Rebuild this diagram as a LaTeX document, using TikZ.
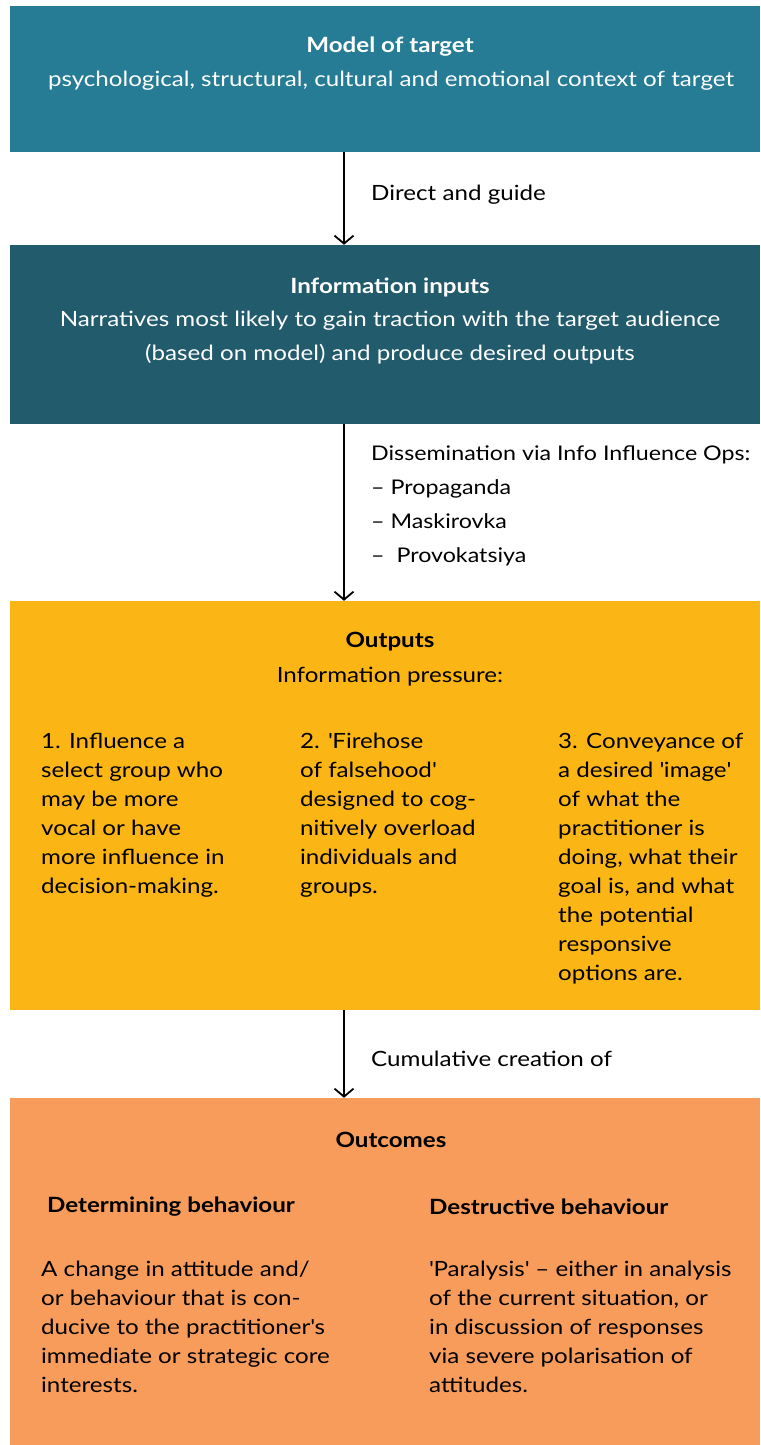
\documentclass[tikz,border=0pt]{standalone}
\usepackage{fontspec}
\setmainfont{Lato}[FakeStretch=1.15]
\usetikzlibrary{positioning, arrows.meta}

\definecolor{modelblue}{HTML}{257C94}
\definecolor{inputteal}{HTML}{215B6C}
\definecolor{outputyellow}{HTML}{FBB615}
\definecolor{outcomeorange}{HTML}{F79C5B}

\begin{document}
\begin{tikzpicture}[x=1pt, y=-1pt,
  panel/.style={rectangle, fill=#1, inner sep=0pt, minimum width=750pt},
  head/.style={font=\bfseries\fontsize{21}{24}\selectfont, inner sep=0pt},
  body/.style={font=\fontsize{21}{34}\selectfont, align=center, inner sep=0pt},
  col/.style={font=\fontsize{21}{29}\selectfont, align=left, anchor=north west, inner sep=0pt},
  note/.style={font=\fontsize{21}{34}\selectfont, align=left, inner sep=0pt},
  arrow/.style={-{Straight Barb[length=8pt, width=19pt]}, line width=1.8pt}
]
\useasboundingbox (0,0) rectangle (760,1445);

% ---------- Boxes ----------
\node[panel=modelblue, minimum height=146pt] (model) at (385,79) {};
\node[panel=inputteal, minimum height=179pt] (inputs) at (385,334.5) {};
\node[panel=outputyellow, minimum height=409pt] (outputs) at (385,805.5) {};
\node[panel=outcomeorange, minimum height=347pt] (outcomes) at (385,1271.5) {};

% ---------- Model of target ----------
\node[head, text=white] (modelT) at (390,47) {Model of target};
\node[body, text=white] (modelB) at (391,81) {psychological, structural, cultural and emotional context of target};

% ---------- Information inputs ----------
\node[head, text=white] (inputsT) at (390,287) {Information inputs};
\node[body, text=white] (inputsB) at (390,338) {Narratives most likely to gain traction with the target audience\\(based on model) and produce desired outputs};

% ---------- Outputs ----------
\node[head] (outputsT) at (390,642) {Outputs};
\node[body] (outputsB) at (390,677) {Information pressure:};
\node[col] (out1) at (41,733) {1. Influence a\\select group who\\may be more\\vocal or have\\more influence in\\decision-making.};
\node[col] (out2) at (300,733) {2. \textquotesingle Firehose\\of falsehood\textquotesingle\\designed to cog-\\nitively overload\\individuals and\\groups.};
\node[col] (out3) at (558,733) {3. Conveyance of\\a desired \textquotesingle image\textquotesingle\\of what the\\practitioner is\\doing, what their\\goal is, and what\\the potential\\responsive\\options are.};

% ---------- Outcomes ----------
\node[head] (outcomesT) at (391,1140) {Outcomes};
\node[head, anchor=west] (determT) at (47,1207) {Determining behaviour};
\node[head, anchor=west] (destrT) at (429,1207) {Destructive behaviour};
\node[col] (determB) at (41,1261) {A change in attitude and/\\or behaviour that is con-\\ducive to the practitioner\textquotesingle s\\immediate or strategic core\\interests.};
\node[col] (destrB) at (429,1261) {\textquotesingle Paralysis\textquotesingle{} -- either in analysis\\of the current situation, or\\in discussion of responses\\via severe polarisation of\\attitudes.};

% ---------- Arrows ----------
\coordinate (ax) at (344,0);
\draw[arrow] (model.south -| ax) -- (inputs.north -| ax);
\draw[arrow] (inputs.south -| ax) -- (outputs.north -| ax);
\draw[arrow] (outputs.south -| ax) -- (outcomes.north -| ax);

\node[note, anchor=west] (guide) at (371,195) {Direct and guide};
\node[note, anchor=north west, font=\fontsize{20.2}{34}\selectfont] (dissem) at (371,445) {Dissemination via Info Influence Ops:\\-- Propaganda\\-- Maskirovka\\--\ \ Provokatsiya};
\node[note, anchor=west] (cumul) at (371,1059) {Cumulative creation of};

\end{tikzpicture}
\end{document}
